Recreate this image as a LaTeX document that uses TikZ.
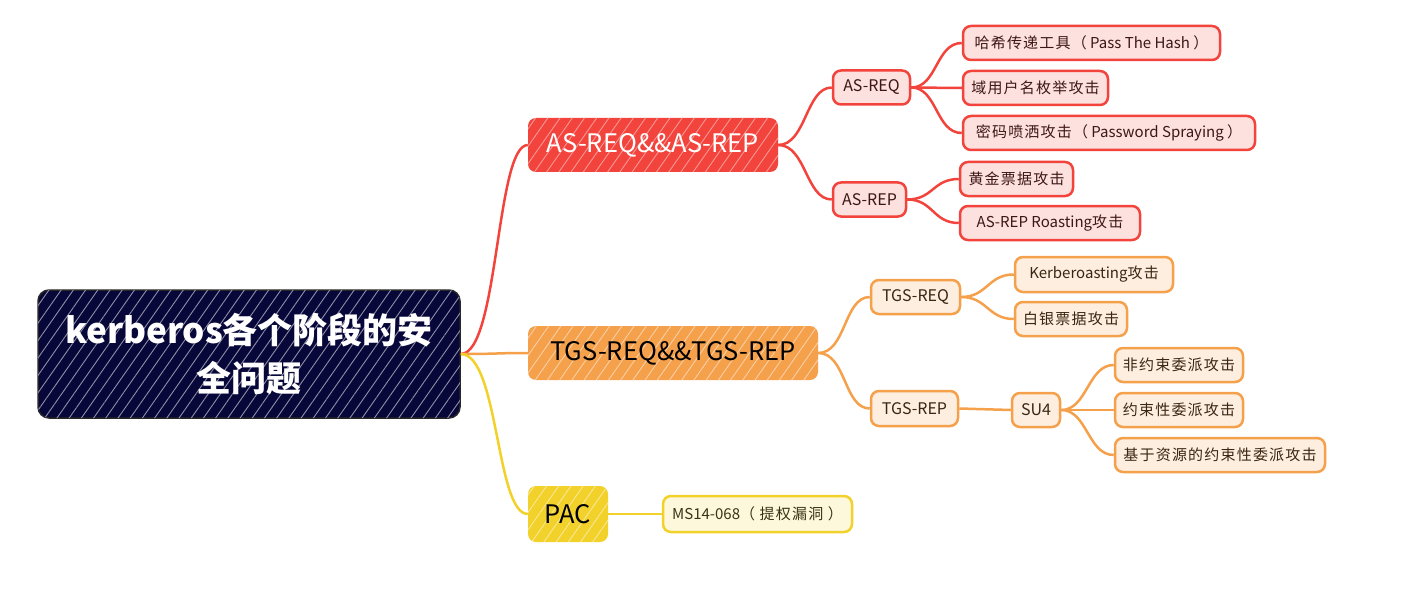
\documentclass[tikz,border=0pt]{standalone}
\usepackage{fontspec}
\setmainfont{Noto Sans CJK SC}
\newfontfamily\cjs{Noto Sans CJK SC}[LetterSpace=8]
\usetikzlibrary{patterns.meta}
\definecolor{rootfill}{HTML}{07073A}
\definecolor{asred}{HTML}{F2443C}
\definecolor{asleaf}{HTML}{FDE1DF}
\definecolor{tgsor}{HTML}{F5A04B}
\definecolor{tgsleaf}{HTML}{FEEEDF}
\definecolor{pacye}{HTML}{F2D12A}
\definecolor{pacleaf}{HTML}{FDF8DC}
\definecolor{redtxt}{HTML}{3D1714}
\definecolor{ortxt}{HTML}{3A2612}
\definecolor{yetxt}{HTML}{3A3412}
\begin{document}
\begin{tikzpicture}[x=1pt,y=-1pt,
  box/.style={rounded corners=8pt, inner sep=0pt, align=center},
  hatch/.style={postaction={pattern={Lines[angle=55,distance=10pt,line width=0.9pt]}, pattern color=#1}},
  rootbox/.style={box, rounded corners=11pt, fill=rootfill, draw=black!85, line width=1.5pt, text=white,
    font=\fontsize{35}{48}\selectfont\bfseries, minimum width=422pt, minimum height=128pt, hatch=rootfill!45!white},
  mainbox/.style={box, font=\fontsize{25.5}{30}\selectfont, minimum height=54pt},
  lvtwo/.style={box, line width=2.5pt, font=\fontsize{16}{19}\selectfont, minimum height=34pt},
  leaf/.style={box, line width=2.5pt, font=\fontsize{15}{18}\selectfont, minimum height=34pt},
  rA/.style={fill=asleaf, draw=asred, text=redtxt},
  oA/.style={fill=tgsleaf, draw=tgsor, text=ortxt},
  yA/.style={fill=pacleaf, draw=pacye, text=yetxt},
  rline/.style={draw=asred, line width=2.5pt},
  oline/.style={draw=tgsor, line width=2.5pt},
  yline/.style={draw=pacye, line width=2.5pt}]
\useasboundingbox (0,0) rectangle (1412,604);

% root
\node[rootbox] (root) at (249,354) {kerberos各个阶段的安\\全问题};

% main branches
\node[mainbox, fill=asred, text=white, minimum width=250pt, hatch=asred!55!white] (asmain) at (653,145) {AS-REQ\&\&AS-REP};
\node[mainbox, fill=tgsor, text=black, minimum width=290pt, hatch=tgsor!50!white] (tgsmain) at (673,353) {TGS-REQ\&\&TGS-REP};
\node[mainbox, fill=pacye, text=black, minimum width=80pt, minimum height=56pt, hatch=pacye!50!white] (pac) at (568,514) {PAC};

% level 2
\node[lvtwo, rA, minimum width=77pt] (asreq) at (871.5,87.5) {AS-REQ};
\node[lvtwo, rA, minimum width=73pt] (asrep) at (869.5,199.5) {AS-REP};
\node[lvtwo, oA, minimum width=89pt] (tgsreq) at (915.5,297) {TGS-REQ};
\node[lvtwo, oA, minimum width=87pt, minimum height=35pt] (tgsrep) at (914.5,408.5) {TGS-REP};
\node[leaf, yA, minimum width=189pt, minimum height=36pt] (ms) at (757.5,514) {MS14-068{\cjs （ 提权漏洞 ）}};

% leaves AS
\node[leaf, rA, minimum width=257pt] (pth) at (1091.5,43) {{\cjs 哈希传递工具（} Pass The Hash {\cjs ）}};
\node[leaf, rA, minimum width=145pt] (enum) at (1035.5,88) {{\cjs 域用户名枚举攻击}};
\node[leaf, rA, minimum width=292pt] (spray) at (1109,133) {{\cjs 密码喷洒攻击（} Password Spraying {\cjs ）}};
\node[leaf, rA, minimum width=113pt] (golden) at (1016.5,179) {{\cjs 黄金票据攻击}};
\node[leaf, rA, minimum width=180pt] (roast) at (1050,223) {AS-REP Roasting{\cjs 攻击}};

% leaves TGS
\node[leaf, oA, minimum width=158pt, minimum height=35pt] (kerb) at (1094,274.5) {Kerberoasting{\cjs 攻击}};
\node[leaf, oA, minimum width=112pt] (silver) at (1071,319) {{\cjs 白银票据攻击}};
\node[lvtwo, oA, minimum width=48pt] (su4) at (1036,410) {SU4};
\node[leaf, oA, minimum width=128pt] (uncon) at (1179,365) {{\cjs 非约束委派攻击}};
\node[leaf, oA, minimum width=128pt] (con) at (1179,410) {{\cjs 约束性委派攻击}};
\node[leaf, oA, minimum width=210pt] (rbcd) at (1220,455) {{\cjs 基于资源的约束性委派攻击}};

% connectors level 1
\draw[rline] (root.east) .. controls +(38,0) and +(-32,0) .. (asmain.west);
\draw[oline] (root.east) .. controls +(38,0) and +(-32,0) .. (tgsmain.west);
\draw[yline] (root.east) .. controls +(38,0) and +(-32,0) .. (pac.west);

% connectors level 2
\draw[rline] (asmain.east) .. controls +(28,0) and +(-26,0) .. (asreq.west);
\draw[rline] (asmain.east) .. controls +(28,0) and +(-26,0) .. (asrep.west);
\draw[oline] (tgsmain.east) .. controls +(28,0) and +(-26,0) .. (tgsreq.west);
\draw[oline] (tgsmain.east) .. controls +(28,0) and +(-26,0) .. (tgsrep.west);
\draw[yline] (pac.east) -- (ms.west);

% connectors level 3
\draw[rline] (asreq.east) .. controls +(26,0) and +(-26,0) .. (pth.west);
\draw[rline] (asreq.east) .. controls +(26,0) and +(-26,0) .. (enum.west);
\draw[rline] (asreq.east) .. controls +(26,0) and +(-26,0) .. (spray.west);
\draw[rline] (asrep.east) .. controls +(26,0) and +(-26,0) .. (golden.west);
\draw[rline] (asrep.east) .. controls +(26,0) and +(-26,0) .. (roast.west);
\draw[oline] (tgsreq.east) .. controls +(26,0) and +(-26,0) .. (kerb.west);
\draw[oline] (tgsreq.east) .. controls +(26,0) and +(-26,0) .. (silver.west);
\draw[oline] (tgsrep.east) -- (su4.west);
\draw[oline] (su4.east) .. controls +(26,0) and +(-26,0) .. (uncon.west);
\draw[oline] (su4.east) .. controls +(26,0) and +(-26,0) .. (con.west);
\draw[oline] (su4.east) .. controls +(26,0) and +(-26,0) .. (rbcd.west);
\end{tikzpicture}
\end{document}
